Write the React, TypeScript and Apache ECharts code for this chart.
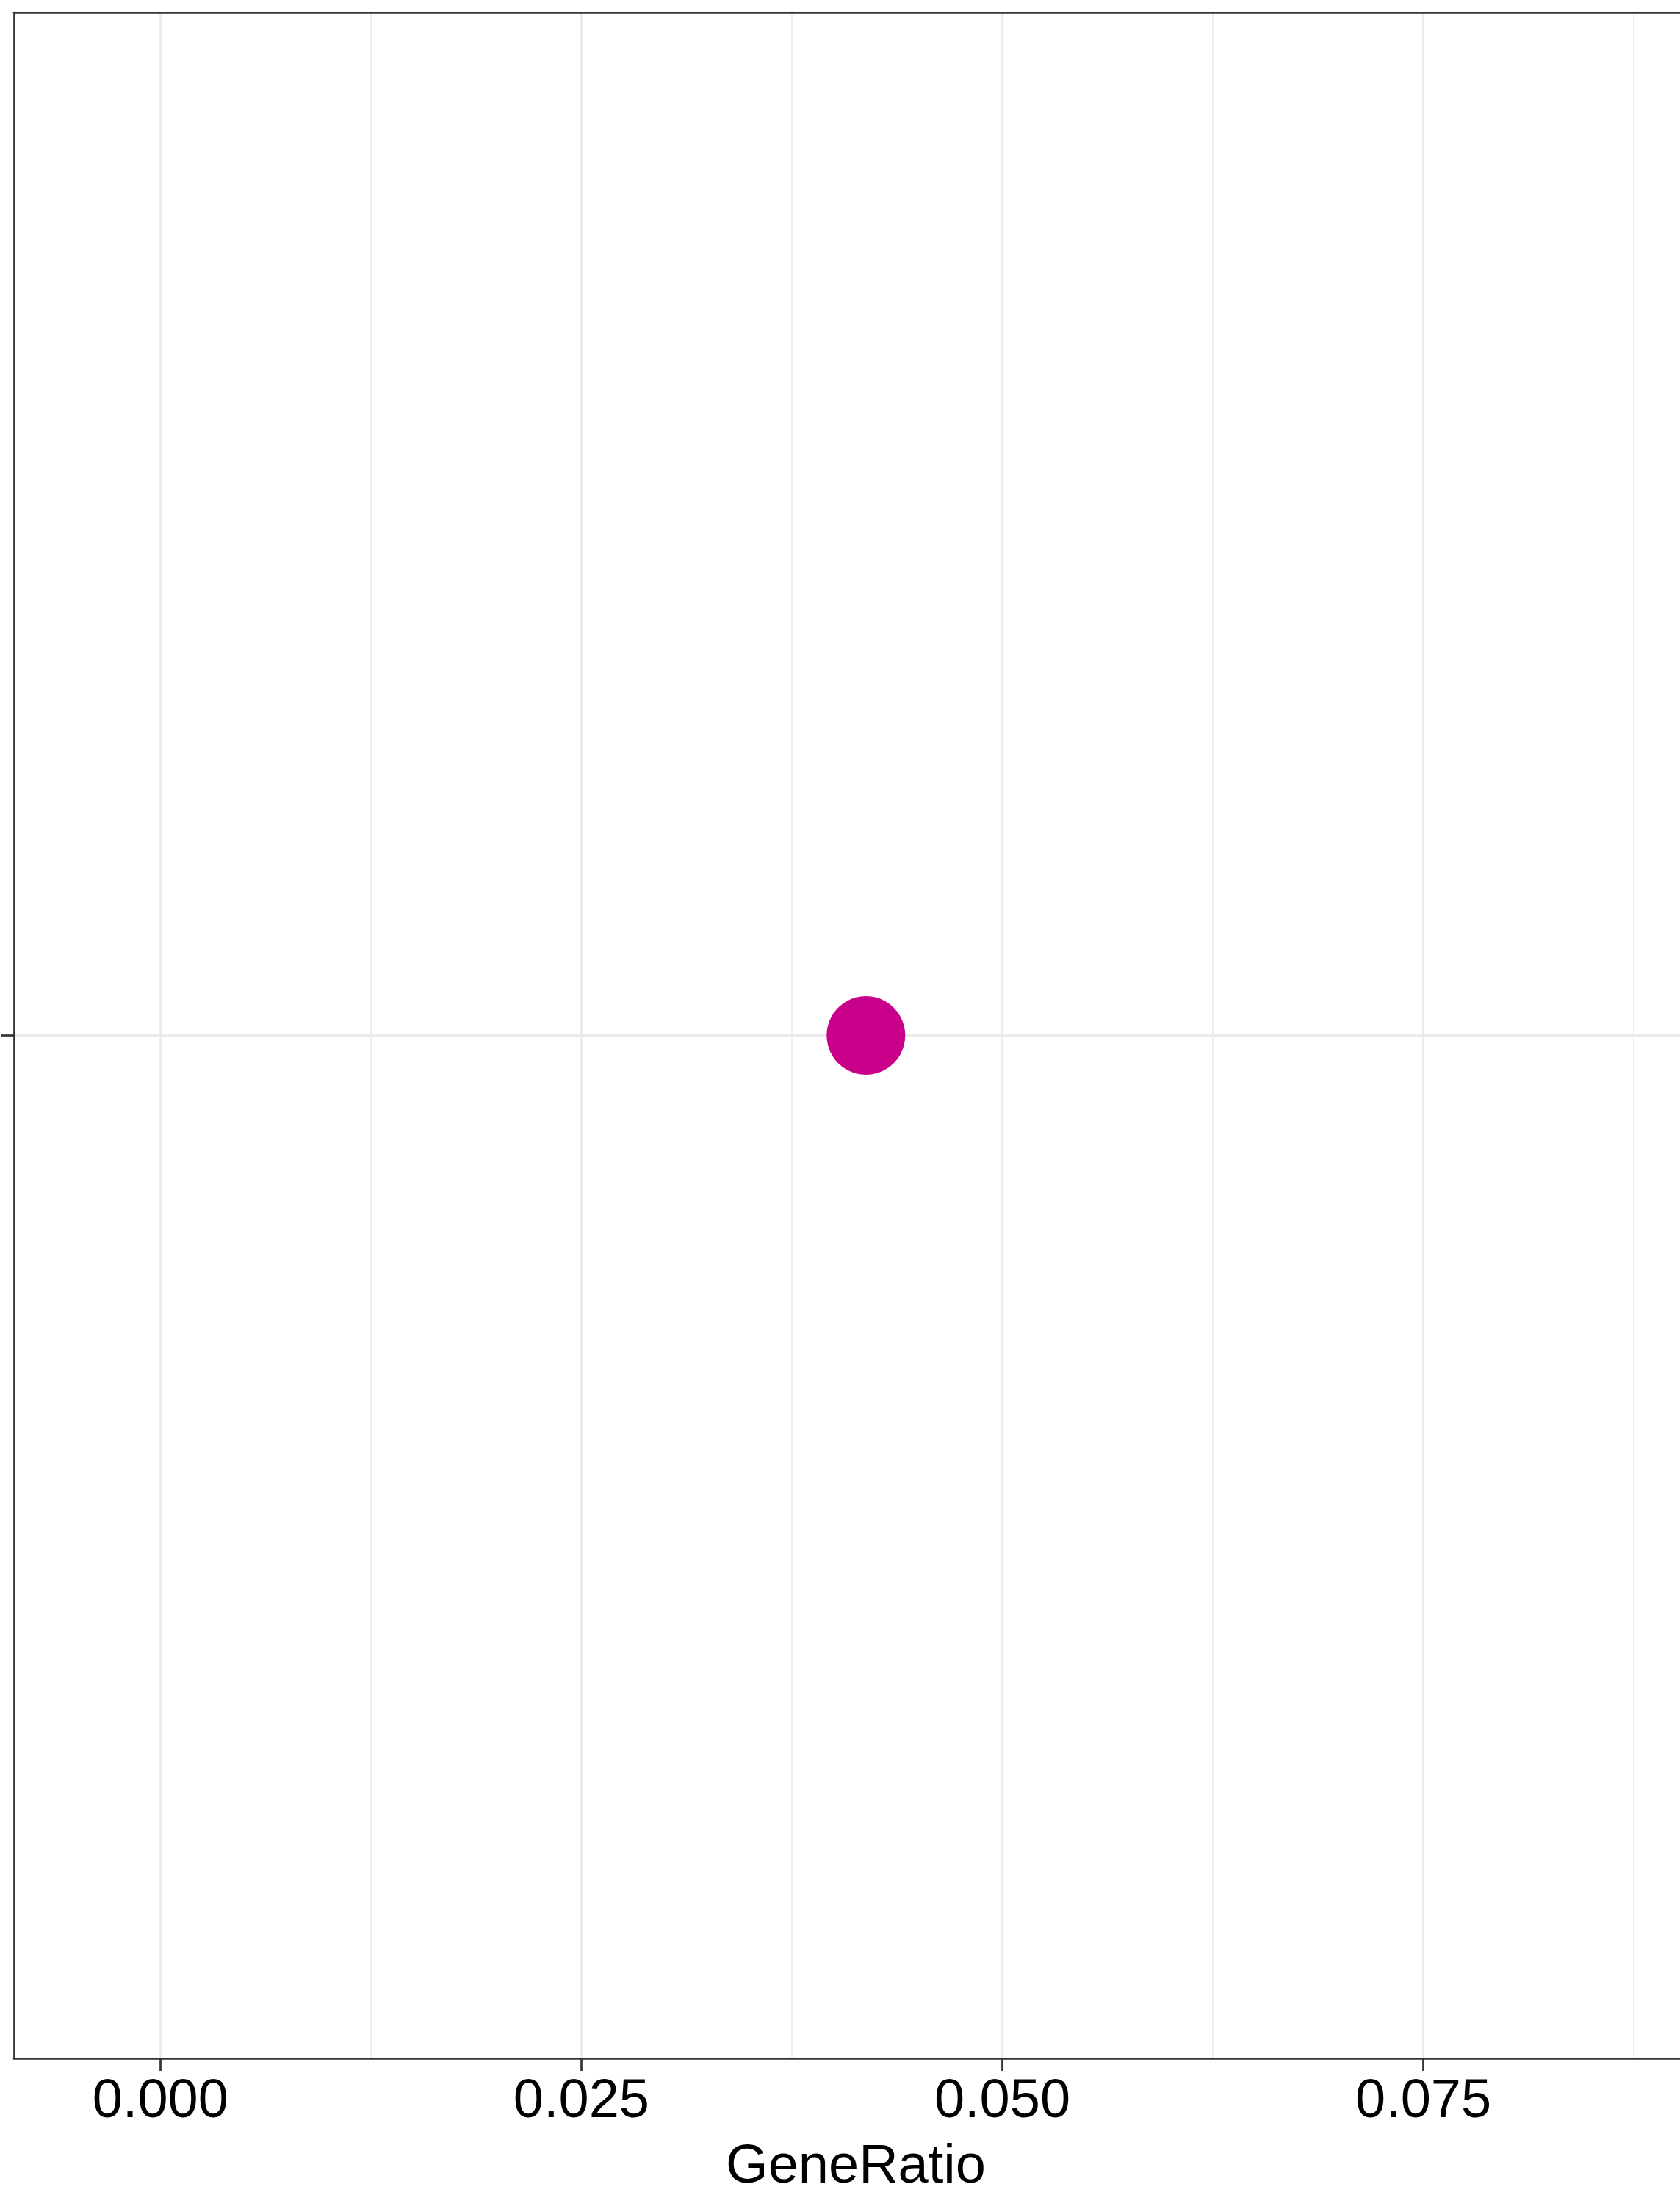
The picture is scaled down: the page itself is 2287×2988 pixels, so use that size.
import React, { useEffect, useRef } from "react";
import * as echarts from "echarts";

const categories = ["term"];
const geneRatio = [0.0419];
const xTickValues = [0, 0.025, 0.05, 0.075];
const xMinorGrid = [0.0125, 0.0375, 0.0625, 0.0875];
const xMin = -0.008694;
const xMax = 0.091289;
const pointColor = "#c8008a";

const FONT = "'Liberation Sans', Arial, sans-serif";

export default function App() {
  const ref = useRef<HTMLDivElement>(null);
  useEffect(() => {
    if (!ref.current) return;
    const chart = echarts.init(ref.current, null, { renderer: "svg" });
    const gridData: any[] = [];
    xTickValues.forEach((v) =>
      gridData.push({ xAxis: v, lineStyle: { color: "#ebebeb", width: 2.8, type: "solid" } })
    );
    xMinorGrid.forEach((v) =>
      gridData.push({ xAxis: v, lineStyle: { color: "#ebebeb", width: 1.6, type: "solid" } })
    );
    categories.forEach((c) =>
      gridData.push({ yAxis: c, lineStyle: { color: "#ebebeb", width: 2.8, type: "solid" } })
    );
    chart.setOption({
      animation: false,
      backgroundColor: "#ffffff",
      grid: {
        left: 19,
        top: 17,
        right: -24,
        bottom: 186,
        containLabel: false,
        outerBoundsMode: "none",
        show: false,
      },
      xAxis: [
        {
          type: "value",
          position: "bottom",
          min: xMin,
          max: xMax,
          z: 10,
          name: "GeneRatio",
          nameLocation: "middle",
          nameGap: 106,
          nameTextStyle: { fontFamily: FONT, fontSize: 74, color: "#000000" },
          axisLine: { show: true, onZero: false, lineStyle: { color: "#333333", width: 2.7 } },
          axisTick: {
            show: true,
            length: 17,
            customValues: xTickValues,
            lineStyle: { color: "#333333", width: 2.7 },
          },
          axisLabel: {
            show: true,
            customValues: xTickValues,
            margin: 17,
            fontFamily: FONT,
            fontSize: 74,
            color: "#000000",
            formatter: (v: number) => v.toFixed(3),
          },
          splitLine: { show: false },
        },
        {
          type: "value",
          position: "top",
          min: xMin,
          max: xMax,
          z: 10,
          axisLine: { show: true, onZero: false, lineStyle: { color: "#333333", width: 2.7 } },
          axisTick: { show: false },
          axisLabel: { show: false },
          splitLine: { show: false },
        },
      ],
      yAxis: {
        type: "category",
        data: categories,
        z: 10,
        axisLine: { show: true, onZero: false, lineStyle: { color: "#333333", width: 2.7 } },
        axisTick: {
          show: true,
          alignWithLabel: true,
          length: 17,
          lineStyle: { color: "#333333", width: 2.7 },
        },
        axisLabel: { show: false },
        splitLine: { show: false },
      },
      series: [
        {
          type: "scatter",
          z: 1,
          data: [],
          silent: true,
          markLine: {
            z: 1,
            silent: true,
            precision: 8,
            symbol: ["none", "none"],
            label: { show: false },
            emphasis: { disabled: true },
            data: gridData,
          },
        },
        {
          type: "scatter",
          z: 5,
          symbol: "circle",
          symbolSize: 107,
          itemStyle: { color: pointColor, opacity: 1 },
          data: categories.map((c, i) => [geneRatio[i], c]),
        },
      ],
    });
    return () => chart.dispose();
  }, []);
  return (
    <div
      ref={ref}
      style={{ position: "absolute", left: 0, top: 0, width: 2287, height: 2988, background: "#fff" }}
    />
  );
}
